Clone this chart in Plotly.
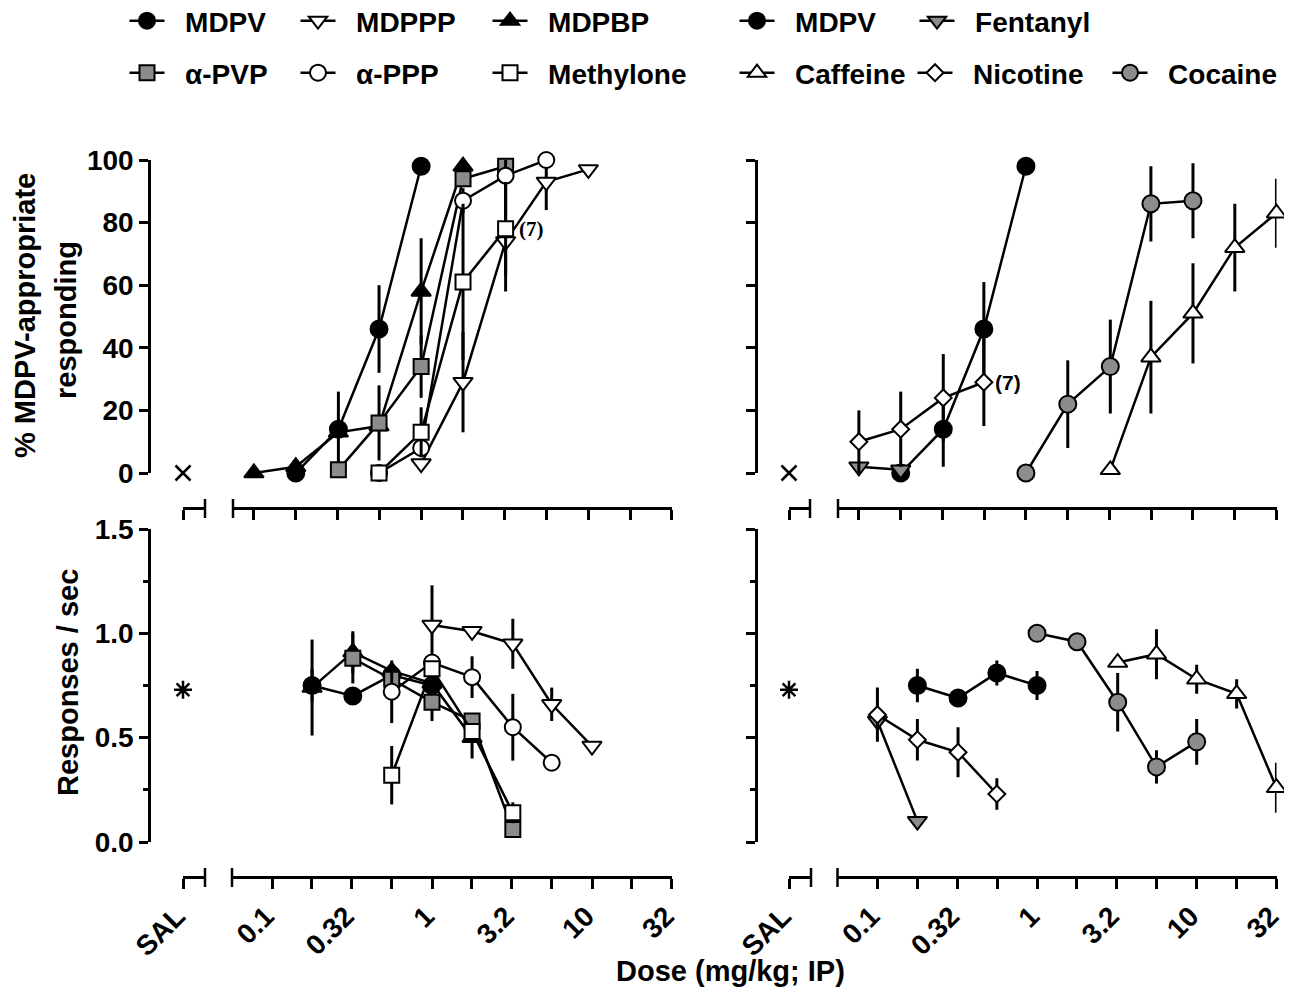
import math
import plotly.graph_objects as go

# ---------------- data (doses in mg/kg) ----------------
# top-left: % MDPV-appropriate responding, MDPV-like cathinones
tl_mdpv_dose = [0.178, 0.32, 0.56, 1.0]
tl_mdpv_pct = [0, 14, 46, 98]
tl_mdpv_err = [0, 12, 14, 0]

tl_mdppp_dose = [1.0, 1.78, 3.2, 5.6, 10]
tl_mdppp_pct = [3, 29, 74, 93, 97]
tl_mdppp_err = [0, 16, 16, 9, 0]

tl_mdpbp_dose = [0.1, 0.178, 0.32, 0.56, 1.0, 1.78]
tl_mdpbp_pct = [0, 2, 13, 15, 58, 98]
tl_mdpbp_err = [0, 0, 0, 0, 17, 0]

tl_apvp_dose = [0.32, 0.56, 1.0, 1.78, 3.2]
tl_apvp_pct = [1, 16, 34, 94, 98]
tl_apvp_err = [0, 12, 10, 0, 0]

tl_appp_dose = [0.56, 1.0, 1.78, 3.2, 5.6]
tl_appp_pct = [0, 8, 87, 95, 100]
tl_appp_err = [0, 0, 4, 5, 0]

tl_methylone_dose = [0.56, 1.0, 1.78, 3.2]
tl_methylone_pct = [0, 13, 61, 78]
tl_methylone_err = [0, 8, 25, 15]

# top-right: % MDPV-appropriate responding, other drugs
tr_mdpv_dose = [0.178, 0.32, 0.56, 1.0]
tr_mdpv_pct = [0, 14, 46, 98]
tr_mdpv_err = [0, 12, 15, 0]

tr_fentanyl_dose = [0.1, 0.178]
tr_fentanyl_pct = [2, 1]
tr_fentanyl_err = [0, 0]

tr_caffeine_dose = [3.2, 5.6, 10, 17.8, 31.6]
tr_caffeine_pct = [1, 37, 51, 72, 83]
tr_caffeine_err = [0, 18, 16, 14, 11]

tr_nicotine_dose = [0.1, 0.178, 0.32, 0.56]
tr_nicotine_pct = [10, 14, 24, 29]
tr_nicotine_err = [10, 12, 14, 14]

tr_cocaine_dose = [1.0, 1.78, 3.2, 5.6, 10]
tr_cocaine_pct = [0, 22, 34, 86, 87]
tr_cocaine_err = [0, 14, 15, 12, 12]

# bottom-left: response rate (responses / sec)
bl_mdpv_rate = [0.75, 0.70, 0.80, 0.75]
bl_mdpv_err = [0.08, 0, 0.06, 0.07]

bl_mdppp_rate = [1.04, 1.01, 0.95, 0.66, 0.46]
bl_mdppp_err = [0.19, 0, 0.12, 0.08, 0]

bl_mdpbp_dose = [0.178, 0.32, 0.56, 1.0, 1.78]
bl_mdpbp_rate = [0.74, 0.91, 0.82, 0.76, 0.50]
bl_mdpbp_err = [0.23, 0.1, 0, 0, 0.1]

bl_apvp_rate = [0.88, 0.78, 0.67, 0.58, 0.06]
bl_apvp_err = [0.12, 0, 0.09, 0, 0]

bl_appp_rate = [0.72, 0.86, 0.79, 0.55, 0.38]
bl_appp_err = [0.15, 0, 0.1, 0.16, 0]

bl_methylone_rate = [0.32, 0.83, 0.53, 0.14]
bl_methylone_err = [0.14, 0, 0, 0.05]

# bottom-right: response rate, other drugs
br_mdpv_rate = [0.75, 0.69, 0.81, 0.75]
br_mdpv_err = [0.08, 0, 0.06, 0.07]

br_fentanyl_rate = [0.58, 0.10]
br_fentanyl_err = [0, 0]

br_caffeine_rate = [0.86, 0.90, 0.78, 0.71, 0.26]
br_caffeine_err = [0, 0.12, 0.07, 0.07, 0.12]

br_nicotine_rate = [0.61, 0.49, 0.43, 0.23]
br_nicotine_err = [0.13, 0.1, 0.12, 0.075]

br_cocaine_rate = [1.0, 0.96, 0.67, 0.36, 0.48]
br_cocaine_err = [0, 0, 0.14, 0.08, 0.11]

# saline control
sal_pct = [0]
sal_rate = [0.73]

dose_ticks = [0.1, 0.1778, 0.3162, 0.5623, 1, 1.778, 3.162, 5.623, 10, 17.78, 31.62]
dose_labels = ["0.1", "", "0.32", "", "1", "", "3.2", "", "10", "", "32"]

# ---------------- styling ----------------
# the page has an 8px body margin, so the figure is 16px smaller than the window
OFF = 8
FW, FH = 1276, 983
FONT = "Liberation Sans, Arial, sans-serif"
GRAY = "#8c8c8c"
NB = "\u00a0\u00a0"


def px(x):
    return (x - OFF) / FW


def py(y):
    return 1 - (y - OFF) / FH


STYLE = {
    "MDPV": dict(symbol="circle", color="black", size=17),
    "MDPPP": dict(symbol="triangle-down", color="white", size=17),
    "MDPBP": dict(symbol="triangle-up", color="black", size=17),
    "α-PVP": dict(symbol="square", color=GRAY, size=15),
    "α-PPP": dict(symbol="circle", color="white", size=16),
    "Methylone": dict(symbol="square", color="white", size=15),
    "Fentanyl": dict(symbol="triangle-down", color=GRAY, size=17),
    "Caffeine": dict(symbol="triangle-up", color="white", size=17),
    "Nicotine": dict(symbol="diamond", color="white", size=13),
    "Cocaine": dict(symbol="circle", color=GRAY, size=17),
}

# legend key centres (page px): one small legend per entry
LEGEND_POS = {
    "legend": (147, 23), "legend2": (318, 23), "legend3": (510, 23),
    "legend4": (147, 75), "legend5": (318, 75), "legend6": (510, 75),
    "legend7": (757, 23), "legend8": (937, 23),
    "legend9": (757, 75), "legend10": (935, 75), "legend11": (1130, 75),
}

fig = go.Figure()


def add_series(name, dose, vals, err, xaxis, yaxis, legend=None):
    st = STYLE[name]
    fig.add_trace(go.Scatter(
        x=dose, y=vals, name=NB + name, mode="lines+markers",
        xaxis=xaxis, yaxis=yaxis,
        line=dict(color="black", width=2.5),
        marker=dict(symbol=st["symbol"], size=st["size"], color=st["color"],
                    line=dict(color="black", width=2)),
        error_y=dict(type="data", array=err, visible=True, width=0,
                     thickness=3, color="black"),
        cliponaxis=False,
        showlegend=legend is not None,
        legend=legend or "legend",
    ))


# top-left
add_series("MDPV", tl_mdpv_dose, tl_mdpv_pct, tl_mdpv_err, "x", "y", "legend")
add_series("MDPPP", tl_mdppp_dose, tl_mdppp_pct, tl_mdppp_err, "x", "y", "legend2")
add_series("MDPBP", tl_mdpbp_dose, tl_mdpbp_pct, tl_mdpbp_err, "x", "y", "legend3")
add_series("α-PVP", tl_apvp_dose, tl_apvp_pct, tl_apvp_err, "x", "y", "legend4")
add_series("α-PPP", tl_appp_dose, tl_appp_pct, tl_appp_err, "x", "y", "legend5")
add_series("Methylone", tl_methylone_dose, tl_methylone_pct, tl_methylone_err, "x", "y", "legend6")

# bottom-left
add_series("MDPV", tl_mdpv_dose, bl_mdpv_rate, bl_mdpv_err, "x3", "y2")
add_series("MDPPP", tl_mdppp_dose, bl_mdppp_rate, bl_mdppp_err, "x3", "y2")
add_series("MDPBP", bl_mdpbp_dose, bl_mdpbp_rate, bl_mdpbp_err, "x3", "y2")
add_series("α-PVP", tl_apvp_dose, bl_apvp_rate, bl_apvp_err, "x3", "y2")
add_series("α-PPP", tl_appp_dose, bl_appp_rate, bl_appp_err, "x3", "y2")
add_series("Methylone", tl_methylone_dose, bl_methylone_rate, bl_methylone_err, "x3", "y2")

# top-right
add_series("MDPV", tr_mdpv_dose, tr_mdpv_pct, tr_mdpv_err, "x5", "y3", "legend7")
add_series("Fentanyl", tr_fentanyl_dose, tr_fentanyl_pct, tr_fentanyl_err, "x5", "y3", "legend8")
add_series("Caffeine", tr_caffeine_dose, tr_caffeine_pct, tr_caffeine_err, "x5", "y3", "legend9")
add_series("Nicotine", tr_nicotine_dose, tr_nicotine_pct, tr_nicotine_err, "x5", "y3", "legend10")
add_series("Cocaine", tr_cocaine_dose, tr_cocaine_pct, tr_cocaine_err, "x5", "y3", "legend11")

# bottom-right
add_series("MDPV", tr_mdpv_dose, br_mdpv_rate, br_mdpv_err, "x7", "y4")
add_series("Fentanyl", tr_fentanyl_dose, br_fentanyl_rate, br_fentanyl_err, "x7", "y4")
add_series("Caffeine", tr_caffeine_dose, br_caffeine_rate, br_caffeine_err, "x7", "y4")
add_series("Nicotine", tr_nicotine_dose, br_nicotine_rate, br_nicotine_err, "x7", "y4")
add_series("Cocaine", tr_cocaine_dose, br_cocaine_rate, br_cocaine_err, "x7", "y4")

# saline points
for xa, ya, val, sym in [("x2", "y", sal_pct, "x-thin-open"), ("x6", "y3", sal_pct, "x-thin-open"),
                         ("x4", "y2", sal_rate, "asterisk-open"), ("x8", "y4", sal_rate, "asterisk-open")]:
    fig.add_trace(go.Scatter(
        x=[0], y=val, mode="markers", xaxis=xa, yaxis=ya, showlegend=False, cliponaxis=False,
        marker=dict(symbol=sym, size=15, color="black", line=dict(color="black", width=2.5)),
    ))

# ---------------- axes ----------------
tick_font = dict(family=FONT, size=28, color="black", weight="bold")
base = dict(showline=True, linecolor="black", linewidth=2.5, ticks="outside",
            tickcolor="black", tickwidth=2.5, showgrid=False, zeroline=False,
            tickfont=tick_font, anchor="free", automargin=False,
            ticklabeloverflow="allow")

TOP_AXIS_Y, BOT_AXIS_Y = 508, 877


def dose_axis(left, right, rng, ypos, labels):
    return dict(base, type="log", domain=[px(left), px(right)], range=rng,
                position=py(ypos), tickvals=dose_ticks, ticktext=dose_labels,
                showticklabels=labels, tickangle=-45, ticklen=10, ticklabelshift=-6)


def sal_axis(left, right, ypos, labels):
    return dict(base, domain=[px(left), px(right)], range=[0, 1], position=py(ypos),
                tickvals=[0], ticktext=["SAL"], showticklabels=labels,
                tickangle=-45, ticklen=10, ticklabelshift=-6)


def pct_axis(xpos, labels):
    return dict(base, domain=[py(473), py(160)], range=[0, 100], position=px(xpos),
                tickvals=[0, 20, 40, 60, 80, 100], showticklabels=labels, ticklen=9)


def rate_axis(xpos, labels):
    return dict(base, domain=[py(842), py(529)], range=[0, 1.5], position=px(xpos),
                tickvals=[0, 0.5, 1.0, 1.5], ticktext=["0.0", "0.5", "1.0", "1.5"],
                showticklabels=labels, ticklen=9,
                minor=dict(tickvals=[0.25, 0.75, 1.25], ticks="outside", ticklen=5,
                           tickwidth=2.5, tickcolor="black"))


legend_base = dict(orientation="h", xanchor="left", yanchor="top",
                   font=dict(family=FONT, size=28, color="black", weight="bold"),
                   bgcolor="rgba(0,0,0,0)", borderwidth=0, itemwidth=35)
legends = {k: dict(legend_base, x=px(cx - 22.5), y=py(cy - 27))
           for k, (cx, cy) in LEGEND_POS.items()}

# axis-break marks
shapes = []
for sal_right, dose_left, ay in [(205, 233, TOP_AXIS_Y), (810, 838, TOP_AXIS_Y),
                                 (205, 232, BOT_AXIS_Y), (811, 837.5, BOT_AXIS_Y)]:
    for xx in (sal_right, dose_left):
        shapes.append(dict(type="line", xref="paper", yref="paper",
                           x0=px(xx), x1=px(xx), y0=py(ay - 9), y1=py(ay + 10),
                           line=dict(color="black", width=2.5)))

title_font = dict(family=FONT, size=29, color="black", weight="bold")
annotations = [
    dict(text="% MDPV-appropriate", x=px(25), y=py(316), textangle=-90),
    dict(text="responding", x=px(66), y=py(320), textangle=-90),
    dict(text="Responses / sec", x=px(68), y=py(683), textangle=-90),
    dict(text="Dose (mg/kg; IP)", x=px(730), y=py(971), textangle=0),
]
for a in annotations:
    a.update(xref="paper", yref="paper", showarrow=False, font=title_font,
             xanchor="center", yanchor="middle")
annotations += [
    dict(text="(7)", xref="x", yref="y", x=math.log10(tl_methylone_dose[-1]),
         y=tl_methylone_pct[-1], xanchor="left", xshift=11, showarrow=False,
         font=dict(family="Liberation Serif, serif", size=21, color="black", weight="bold")),
    dict(text="(7)", xref="x5", yref="y3", x=math.log10(tr_nicotine_dose[-1]),
         y=tr_nicotine_pct[-1], xanchor="left", xshift=9, showarrow=False,
         font=dict(family=FONT, size=21, color="black", weight="bold")),
]

fig.update_layout(
    width=FW, height=FH, margin=dict(l=0, r=0, t=0, b=0, autoexpand=False),
    plot_bgcolor="white", paper_bgcolor="white",
    font=dict(family=FONT, color="black"),
    showlegend=True,
    xaxis=dose_axis(233, 672, [-1.125, 1.5], TOP_AXIS_Y, False),
    xaxis2=sal_axis(183, 205, TOP_AXIS_Y, False),
    xaxis3=dose_axis(232, 672, [-1.25, 1.5], BOT_AXIS_Y, True),
    xaxis4=sal_axis(183, 205, BOT_AXIS_Y, True),
    xaxis5=dose_axis(838, 1276.5, [-1.125, 1.5], TOP_AXIS_Y, False),
    xaxis6=sal_axis(789, 810, TOP_AXIS_Y, False),
    xaxis7=dose_axis(837.5, 1276.5, [-1.25, 1.5], BOT_AXIS_Y, True),
    xaxis8=sal_axis(789, 811, BOT_AXIS_Y, True),
    yaxis=pct_axis(149, True),
    yaxis2=rate_axis(149, True),
    yaxis3=pct_axis(756, False),
    yaxis4=rate_axis(756, False),
    shapes=shapes,
    annotations=annotations,
    **legends,
)

fig.write_html("out.html")
